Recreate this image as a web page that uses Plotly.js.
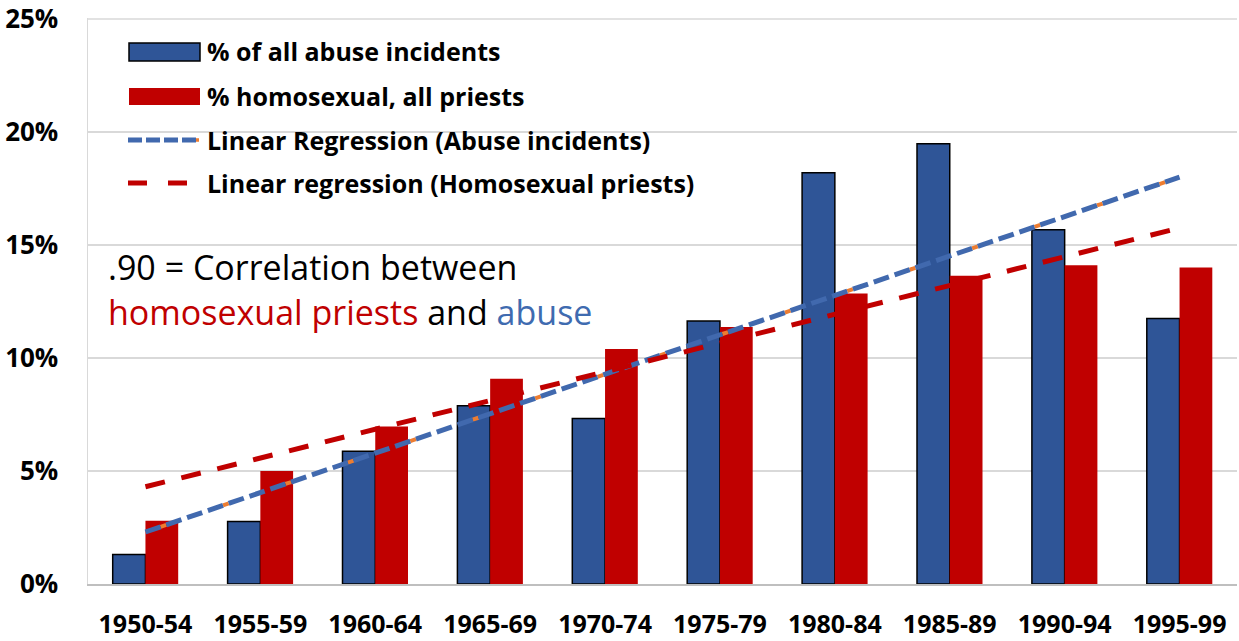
<!DOCTYPE html>
<html>
<head>
<meta charset="utf-8">
<script src="https://cdn.plot.ly/plotly-3.0.1.min.js"></script>
<style>
  html, body { margin: 0; padding: 0; background: #ffffff; }
  #chart { width: 1239px; height: 641px; }
</style>
</head>
<body>
<div id="chart"></div>
<script>
// ---- data ----
const periods = ["1950-54","1955-59","1960-64","1965-69","1970-74","1975-79","1980-84","1985-89","1990-94","1995-99"];
const abusePct = [1.3, 2.76, 5.87, 7.89, 7.32, 11.63, 18.19, 19.48, 15.67, 11.75];
const homosexualPct = [2.8, 5.0, 6.97, 9.08, 10.4, 11.37, 12.85, 13.64, 14.1, 14.0];
// regression line end points (first and last period)
const trendPeriods = ["1950-54", "1995-99"];
const abuseTrend = [2.3, 18.0];
const homosexualTrend = [4.3, 15.75];
const yTicks = [0, 5, 10, 15, 20, 25];
const legendLabels = ["% of all abuse incidents", "% homosexual, all priests", "Linear Regression (Abuse incidents)", "Linear regression (Homosexual priests)"];

const BLUE = "#2F5597";
const RED = "#C00000";
const TBLUE = "#4169AE";
const ORANGE = "#ED7D31";
const FONT = "'Open Sans', Lato, sans-serif";

const W = 1239, H = 641;
const M = {l: 88, r: 2, t: 18, b: 57};
const pw = W - M.l - M.r, ph = H - M.t - M.b;
const px = x => (x - M.l) / pw;
const py = y => (H - M.b - y) / ph;

const traces = [
  {type: "bar", x: periods, y: abusePct, name: legendLabels[0],
   marker: {color: BLUE, line: {color: "#000000", width: 1.5}}},
  {type: "bar", x: periods, y: homosexualPct, name: legendLabels[1],
   marker: {color: RED, line: {color: RED, width: 0}}},
  {type: "scatter", mode: "lines", x: trendPeriods, y: abuseTrend, showlegend: false, hoverinfo: "skip",
   line: {color: ORANGE, width: 4, dash: "0px,16px,6px,44px"}},
  {type: "scatter", mode: "lines", x: trendPeriods, y: abuseTrend, name: legendLabels[2],
   line: {color: TBLUE, width: 5, dash: "16px,6px"}},
  {type: "scatter", mode: "lines", x: trendPeriods, y: homosexualTrend, name: legendLabels[3],
   line: {color: RED, width: 5, dash: "20px,17px"}}
];

// custom legend (shapes + text) and top gridline
const shapes = [
  {type: "line", xref: "paper", yref: "y", x0: 0, x1: 1, y0: yTicks[yTicks.length - 1], y1: yTicks[yTicks.length - 1],
   line: {color: "#D9D9D9", width: 1.5}, layer: "below"},
  {type: "rect", xref: "paper", yref: "paper", x0: px(129), x1: px(200), y0: py(61), y1: py(43),
   fillcolor: BLUE, line: {color: "#000", width: 1.5}},
  {type: "rect", xref: "paper", yref: "paper", x0: px(129), x1: px(200), y0: py(105), y1: py(88),
   fillcolor: RED, line: {width: 0}},
  {type: "line", xref: "paper", yref: "paper", x0: px(128), x1: px(202), y0: py(140), y1: py(140),
   line: {color: ORANGE, width: 3.5, dash: "0px,66px,5px,10px"}},
  {type: "line", xref: "paper", yref: "paper", x0: px(128), x1: px(196), y0: py(140), y1: py(140),
   line: {color: TBLUE, width: 5, dash: "14px,4px"}},
  {type: "line", xref: "paper", yref: "paper", x0: px(128), x1: px(189), y0: py(183), y1: py(183),
   line: {color: RED, width: 5, dash: "19px,21px"}}
];
const legendY = [51, 96, 140, 183];
const annotations = legendLabels.map((t, i) => ({
  xref: "paper", yref: "paper", x: px(205), y: py(legendY[i]), xanchor: "left", yanchor: "middle",
  text: "<b>" + t + "</b>", showarrow: false, font: {family: FONT, size: 25, color: "#000"}
}));
annotations.push({
  xref: "paper", yref: "paper", x: px(106), y: py(267), xanchor: "left", yanchor: "middle",
  text: ".90 = Correlation between", showarrow: false, font: {family: FONT, size: 34, color: "#000"}
});
annotations.push({
  xref: "paper", yref: "paper", x: px(106), y: py(312), xanchor: "left", yanchor: "middle",
  text: '<span style="color:#C00000">homosexual priests</span> and <span style="color:#3F6BB0">abuse</span>',
  showarrow: false, font: {family: FONT, size: 34, color: "#000"}
});

const layout = {
  width: W, height: H,
  margin: M,
  paper_bgcolor: "#fff", plot_bgcolor: "#fff",
  barmode: "group", bargap: 0.43, bargroupgap: 0,
  showlegend: false,
  xaxis: {type: "category", showgrid: false, showline: true, linecolor: "#BFBFBF", linewidth: 1.5,
          ticks: "", tickfont: {family: FONT, size: 25, color: "#000", weight: "bold"},
          ticklabelstandoff: 17, fixedrange: true},
  yaxis: {range: [0, 25.04], tickvals: yTicks, ticktext: yTicks.map(v => v + "%"),
          showgrid: true, gridcolor: "#D9D9D9", gridwidth: 1.5,
          zeroline: false, showline: true, linecolor: "#D9D9D9", linewidth: 1.5,
          ticks: "", ticklabelstandoff: 23, ticklabeloverflow: "allow",
          tickfont: {family: FONT, size: 26, color: "#000", weight: "bold"}, fixedrange: true},
  shapes: shapes,
  annotations: annotations
};

Plotly.newPlot("chart", traces, layout, {displayModeBar: false, staticPlot: true});
</script>
</body>
</html>
